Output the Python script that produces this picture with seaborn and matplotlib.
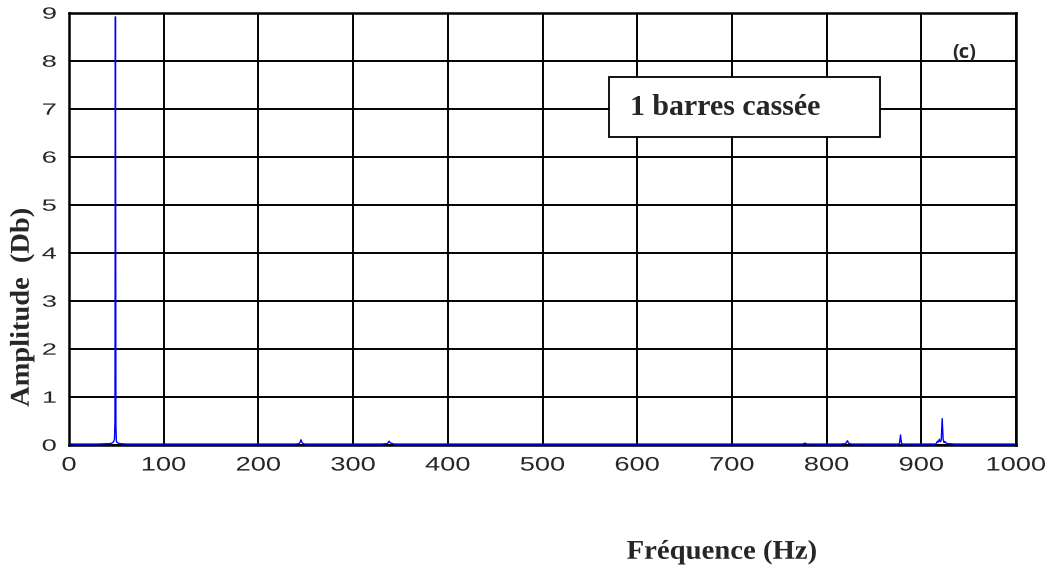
import matplotlib
matplotlib.use("Agg")
import matplotlib.pyplot as plt
import seaborn as sns
import pandas as pd
from matplotlib.path import Path
from matplotlib.patches import Rectangle
from matplotlib.patheffects import AbstractPathEffect
from matplotlib.transforms import Affine2D

# Spectrum of the stator current (one broken rotor bar)
freq_hz = [0, 3, 10, 30, 44, 46, 47, 48, 48.5, 49, 49.5, 50, 51, 53, 60, 120,
           230, 240, 243, 244, 245, 246, 247, 249, 260,
           330, 336, 337, 338, 339, 340, 343, 360,
           500, 700, 770, 775, 777, 779, 790,
           815, 820, 821, 822, 823, 826,
           870, 876, 877, 878, 879, 880, 885,
           910, 915, 916, 917, 918, 919, 920, 921, 922, 923, 924, 925, 927, 935, 1000]
amplitude = [0.03, 0.02, 0.02, 0.02, 0.03, 0.05, 0.07, 0.12, 0.5, 8.92, 0.4, 0.08, 0.05, 0.03, 0.02, 0.02,
             0.02, 0.02, 0.03, 0.06, 0.11, 0.05, 0.03, 0.02, 0.02,
             0.02, 0.03, 0.05, 0.08, 0.05, 0.04, 0.02, 0.02,
             0.02, 0.02, 0.02, 0.02, 0.04, 0.02, 0.02,
             0.02, 0.03, 0.06, 0.09, 0.04, 0.02,
             0.02, 0.02, 0.04, 0.21, 0.04, 0.02, 0.02,
             0.02, 0.02, 0.04, 0.08, 0.06, 0.12, 0.07, 0.1, 0.55, 0.12, 0.05, 0.07, 0.03, 0.02, 0.02]

x_ticks = [0, 100, 200, 300, 400, 500, 600, 700, 800, 900, 1000]
y_ticks = [0, 1, 2, 3, 4, 5, 6, 7, 8, 9]


class Stretch(AbstractPathEffect):
    """Scale a text path in display space about its centre or an edge."""

    def __init__(self, sx=1.0, sy=1.0, anchor="center"):
        super().__init__()
        self.sx, self.sy, self.anchor = sx, sy, anchor

    def draw_path(self, renderer, gc, tpath, affine, rgbFace=None):
        verts = tpath.vertices
        if tpath.codes is not None:
            verts = verts[tpath.codes != Path.CLOSEPOLY]
        if len(verts) == 0:
            renderer.draw_path(gc, tpath, affine, rgbFace)
            return
        d = affine.transform(verts)
        x0, x1 = d[:, 0].min(), d[:, 0].max()
        y0, y1 = d[:, 1].min(), d[:, 1].max()
        cx = x1 if self.anchor == "right" else 0.5 * (x0 + x1)
        cy = 0.5 * (y0 + y1)
        extra = Affine2D().translate(-cx, -cy).scale(self.sx, self.sy).translate(cx, cy)
        renderer.draw_path(gc, tpath, affine + extra, rgbFace)


df = pd.DataFrame({"f": freq_hz, "a": amplitude})

sns.set_style("white")
plt.rcParams["font.family"] = ["Liberation Sans", "DejaVu Sans"]

fig = plt.figure(figsize=(10.54, 5.74), dpi=100)
ax = fig.add_axes([0.0655, 0.2247, 0.8985, 0.7526])

sns.lineplot(data=df, x="f", y="a", color="#0000ff", linewidth=1.0,
             estimator=None, sort=True, ax=ax, zorder=3)

ax.set_xlim(0, 1000)
ax.set_ylim(0, 9)
ax.set_xticks(x_ticks)
ax.set_yticks(y_ticks)
ax.tick_params(axis="both", direction="in", length=4, width=1.2, color="black")
ax.tick_params(axis="x", labelsize=14, pad=9)
ax.tick_params(axis="y", labelsize=13.5, pad=9)
for lbl in ax.get_xticklabels():
    lbl.set_path_effects([Stretch(sx=1.4)])
for lbl in ax.get_yticklabels():
    lbl.set_path_effects([Stretch(sx=1.45, sy=0.87, anchor="right")])

ax.grid(True, color="black", linewidth=1.4, zorder=1)
ax.set_axisbelow(True)
for s in ax.spines.values():
    s.set_color("black")
    s.set_linewidth(1.8)

ax.set_xlabel("")
ax.set_ylabel("")

fig.text(0.021, 0.465, "Amplitude  (Db)", fontsize=19.5, fontweight="bold",
         family="Liberation Serif", rotation=90, ha="center", va="center",
         path_effects=[Stretch(sy=1.05)])

fig.text(0.685, 0.038, "Fréquence (Hz)", fontsize=19.5, fontweight="bold",
         family="Liberation Serif", ha="center", va="center",
         path_effects=[Stretch(sx=1.06)])

# Annotation box
ax.add_patch(Rectangle((570, 6.42), 286, 1.25, facecolor="white",
                       edgecolor="black", linewidth=1.3, zorder=4))
ax.text(592, 7.03, "1 barres cassée", fontsize=21.5, fontweight="bold",
        family="Liberation Serif", va="center", ha="left", zorder=5)

ax.text(945, 8.17, "(c)", fontsize=14.5, fontweight="bold", family="Open Sans",
        ha="center", va="center", zorder=5)

fig.savefig("out.png", dpi=100, facecolor="white")
